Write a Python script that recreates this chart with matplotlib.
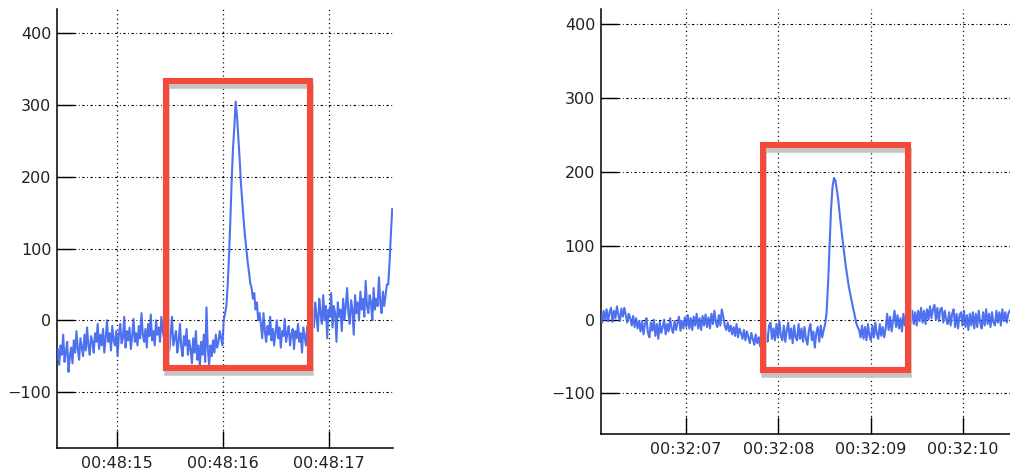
import numpy as np
import matplotlib
matplotlib.use("Agg")
import matplotlib.pyplot as plt
from matplotlib.patches import Rectangle
from matplotlib.transforms import offset_copy

plt.rcParams['font.family'] = ['DejaVu Sans']

# ---- Event 1: sampled trace around 00:48:16 (seconds within the minute) ----
left_t0 = 14.43
left_dt = 0.0125
left_vals = [
    # pre-event baseline
    -55, -40, -62, -35, -48, -20, -58, -45, -30, -72, -50, -38, -60, -28, -45,
    -15, -40, -55, -25, -38, -50, -20, -42, -10, -35, -48, -22, -30, -45, -18,
    -30, -5, -40, -20, -35, -12, -45, -25, 0, -30, -18, -42, -8, -28, -35, -15,
    -50, -20, -5, -32, -25, 5, -38, -15, -28, -10, -40, -22, 2, -30, -18, -35,
    -8, -25, 10, -20, -30, -12, -38, -5, -22, 8, -28, -15, -35, 0, -20, -10,
    -30, 5, -15, -25,
    38,
    -30, -10, -42, -20, 5, -35, -25, -15, -45, -30, -5, -38, -50, -22, -35,
    -12, -48, -28, -40, -60, -25, -45, -15, -55, -35, -65, -30, -48, -20, -58,
    18, -40, -62, -35, -50, -28, -45, -20, -38, -30, -15, -25, -35,
    # pulse
    0, 10, 20, 50, 90, 140, 195, 240, 270, 305,
    285, 255, 225, 190, 165, 140, 118, 100, 82, 68, 52, 45, 30, 38, 15, 25, 0, 10,
    # post-event baseline
    -5, -25, 10, -15, -30, -8, -20, 5, -28, -12, -35, -18, 0, -25, -10, -38,
    -15, -22, 2, -30, -18, -8, -35, -20, -12, -40, -15, -25, -5, -30, -18, -45,
    -10, -22, -35, -8, -28, -15,
    -20, 15, -10, 25, 5, -15, 30, 10, -5, 35, 0, 20, -25, 15, 5, 38, -10, 20,
    10, -30, 25, 5, 15, -15, 30, 0, 20, 45, 10, -5, 28, 15, -20, 35, 10, 25, 0,
    40, 15, 30, 5, 55, 20, 10, 35, 25, 0, 45, 15, 30, 20, 60, 25, 10, 40, 20,
    35, 50,
    50, 80, 120, 155,
]
left_ticks = [15, 16, 17]
left_ticklabels = ['00:48:15', '00:48:16', '00:48:17']
left_xlim = (14.434, 17.60)
left_ylim = (-178, 434)
left_box = (15.462, -67, 16.821, 333)   # x0, y0, x1, y1

# ---- Event 2: sampled trace around 00:32:08 ----
right_t0 = 6.075
right_dt = 0.016
right_vals = [
    8, -4, 12, 0, 14, -2, 10, 16, -3, 12, 2, 18, 6, -2, 15, 4, 16, 6, -4, 8,
    2, -8, 5, -10, 2, -12, -2,
    -16, -2, -20, -5, 2, -18, -24, -4, -15, 0, -22, -6, -26, -3, -18, -10, 0,
    -20, -6, -16, 2, -12, -18, -2, -14, -4, 4, -15, -2, -12, 3,
    -10, 6, -12, 2, -14, 4, -8, 8, -12, 2, -14, 5, -8, 7, -10, 3, -12, 8, -6,
    12, -4, -10, 6, -8, 14, 4, -8,
    -14, -4, -16, -8, -20, -10, -22, -6, -24, -12, -18, -26, -14, -28, -16,
    -24, -32, -18, -26, -34, -20, -32, -24, -36,
    -8, -26, -10, -22, -30, -8, -4, -26, -12, -28, -6, -24, -2, -22, -28, -8,
    -30, -14, -4, -26, -12, -32, -8, -24, -28, -6, -26, -12, -30, -10, -26, -34,
    -14, -6, -28, -16, -38, -18, -10, -30, -8, -24, -14, -6,
    # pulse
    10, 50, 100, 150, 180, 192,
    188, 175, 160, 140, 122, 105, 88, 72, 58, 45, 35, 25, 15, 6, -4, -10, -14,
    # post-event baseline
    -24, -8, -26, -10, -28, -6, -22, -28, -8, -24, -4, -20, -26, -6, -22, -10,
    -24,
    -12, 8, -14, 4, -16, -2, 12, -10, 6, -12, 2, -16, 8, -8,
    4, -6, 10, -4, 12, -6, 10, -8, 12, -2, 16, -4, 12, -6, 14, 0, 18, 2, 14, 20,
    0, 16, -2, 14, 16, -4, 12, 0, -6, 10, -8, 8, 14, -10, 8, -12, 6, 10, -8, 12,
    -10, 6, -14, 8, -8, 10, -12, 8, -10, 12, -4, -12, 10, -8, 14, -6, 8, -10,
    10, -4, -8, 12, -4, 10, -8, 14, -2, 10, -4, 8, 12,
]
right_ticks = [7, 8, 9, 10]
right_ticklabels = ['00:32:07', '00:32:08', '00:32:09', '00:32:10']
right_xlim = (6.075, 10.51)
right_ylim = (-155, 421)
right_box = (7.835, -68, 9.403, 237)

y_ticks = [-100, 0, 100, 200, 300, 400]
y_ticklabels = ['\u2212100', '0', '100', '200', '300', '400']

TRACE = '#3b63ee'
BOX = '#f5493c'
SHADOW = '#c4c4c4'
TEXT = '#222222'

fig = plt.figure(figsize=(10.1, 4.7), dpi=100)
ax_l = fig.add_axes([57 / 1010, 22 / 470, 336 / 1010, 439 / 470])
ax_r = fig.add_axes([600.7 / 1010, 36 / 470, 409.3 / 1010, 425 / 470])


def draw(ax, t0, dt, vals, ticks, ticklabels, xlim, ylim, box):
    v = np.asarray(vals, dtype=float)
    t = t0 + dt * np.arange(v.size)
    ax.set_xlim(*xlim)
    ax.set_ylim(*ylim)

    # grid: dash-dot horizontals, dotted verticals
    for yv in y_ticks:
        ax.axhline(yv, color='black', lw=0.8, ls=(0, (2.2, 2.2, 0.8, 2.2)), zorder=1)
    for xv in ticks:
        ax.axvline(xv, color='black', lw=0.9, ls=(0, (0.9, 2.6)), zorder=1)

    ax.plot(t, v, color=TRACE, lw=1.5, alpha=0.9, zorder=3)

    x0, y0, x1, y1 = box
    shadow_tr = offset_copy(ax.transData, fig=ax.figure, x=1, y=-5, units='dots')
    ax.add_patch(Rectangle((x0, y0), x1 - x0, y1 - y0, fill=False,
                           edgecolor=SHADOW, lw=4.0, transform=shadow_tr,
                           zorder=4, joinstyle='miter'))
    ax.add_patch(Rectangle((x0, y0), x1 - x0, y1 - y0, fill=False,
                           edgecolor=BOX, lw=4.4, zorder=5, joinstyle='miter'))

    ax.set_xticks(ticks)
    ax.set_xticklabels(ticklabels)
    ax.set_yticks(y_ticks)
    ax.set_yticklabels(y_ticklabels)
    ax.tick_params(axis='both', direction='in', length=12.5, width=1.0,
                   color='black', labelsize=11.5, labelcolor=TEXT)
    ax.tick_params(axis='y', pad=4)
    ax.tick_params(axis='x', pad=6)
    for side in ('top', 'right'):
        ax.spines[side].set_visible(False)
    for side in ('left', 'bottom'):
        ax.spines[side].set_linewidth(1.1)
        ax.spines[side].set_color('black')
    ax.set_facecolor('white')


draw(ax_l, left_t0, left_dt, left_vals, left_ticks, left_ticklabels,
     left_xlim, left_ylim, left_box)
draw(ax_r, right_t0, right_dt, right_vals, right_ticks, right_ticklabels,
     right_xlim, right_ylim, right_box)

fig.savefig('out.png', dpi=100, facecolor='white')
